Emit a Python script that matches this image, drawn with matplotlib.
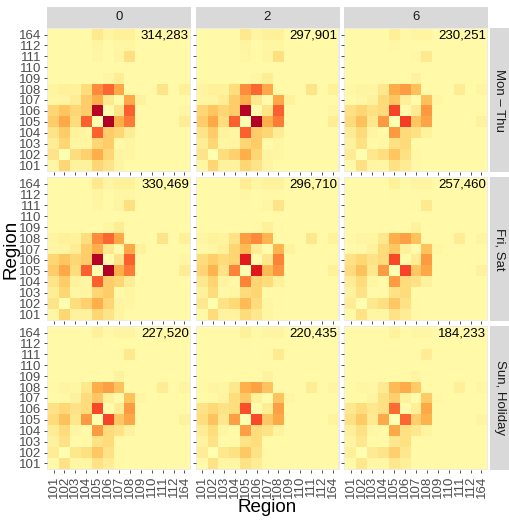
import numpy as np
import matplotlib
matplotlib.use('Agg')
import matplotlib.pyplot as plt
from matplotlib.colors import LinearSegmentedColormap

plt.rcParams['font.family'] = ['Liberation Sans', 'DejaVu Sans']

# regions on both axes (bottom to top / left to right)
regions = ['101', '102', '103', '104', '105', '106', '107', '108', '109', '110', '111', '112', '164']
col_labels = ['0', '2', '6']
row_labels = ['Mon \u2013 Thu', 'Fri, Sat', 'Sun, Holiday']

# totals printed in each panel
totals = [['314,283', '297,901', '230,251'],
          ['330,469', '296,710', '257,460'],
          ['227,520', '220,435', '184,233']]

# relative flow intensity (panel 0 / Mon-Thu), rows = origin 101..164
base = [
    [.04, .18, .06, .06, .18, .12, .05, .03, .03, .03, .03, .03, .03],  # 101
    [.12, .01, .15, .20, .35, .18, .05, .04, .03, .03, .03, .03, .03],  # 102
    [.08, .18, .04, .05, .18, .22, .03, .04, .03, .03, .03, .03, .03],  # 103
    [.12, .22, .06, .04, .62, .22, .18, .08, .03, .03, .03, .03, .03],  # 104
    [.22, .38, .15, .62, .00, 1.0, .35, .55, .03, .03, .03, .03, .08],  # 105
    [.18, .25, .18, .22, .98, .02, .12, .62, .03, .03, .03, .03, .04],  # 106
    [.04, .05, .08, .22, .35, .10, .02, .38, .06, .03, .03, .03, .03],  # 107
    [.05, .07, .06, .15, .50, .60, .38, .03, .03, .03, .12, .03, .07],  # 108
    [.03, .03, .03, .03, .03, .04, .08, .03, .03, .03, .03, .03, .03],  # 109
    [.03, .03, .03, .03, .03, .03, .03, .03, .03, .03, .03, .03, .03],  # 110
    [.03, .03, .03, .03, .04, .03, .05, .14, .03, .03, .03, .03, .03],  # 111
    [.03, .03, .03, .03, .05, .03, .04, .04, .03, .03, .03, .03, .03],  # 112
    [.03, .03, .03, .03, .10, .05, .07, .07, .03, .03, .03, .03, .03],  # 164
]

# peak intensity of each panel relative to panel 0 / Mon-Thu
peak = [[1.00, 1.00, 0.72],
        [1.00, 0.85, 0.70],
        [0.70, 0.68, 0.60]]

base = np.array(base)

# 7-class YlOrRd brewer palette
cmap = LinearSegmentedColormap.from_list(
    'ylorrd7', ['#FFFFB2', '#FED976', '#FEB24C', '#FD8D3C', '#FC4E2A', '#E31A1C', '#B10026'])

W, H = 509, 521
fig = plt.figure(figsize=(W / 100, H / 100), dpi=100)


def box(x0, y0, x1, y1):
    return [x0 / W, 1 - y1 / H, (x1 - x0) / W, (y1 - y0) / H]


cols_px = [(47, 191), (195.5, 339.5), (344, 488)]
rows_px = [(28, 172), (177, 321), (326, 470)]

edges = np.arange(len(regions) + 1) - 0.5

for i, (y0, y1) in enumerate(rows_px):
    for j, (x0, x1) in enumerate(cols_px):
        ax = fig.add_axes(box(x0, y0, x1, y1))
        ax.set_facecolor('#EBEBEB')
        vals = np.maximum(base * peak[i][j], 0.03)
        vals[base < 0.03] = base[base < 0.03]
        ax.pcolormesh(edges, edges, vals, cmap=cmap, vmin=0.0, vmax=1.0)
        ax.set_xlim(-0.6, len(regions) - 0.4)
        ax.set_ylim(-0.6, len(regions) - 0.4)
        for s in ax.spines.values():
            s.set_visible(False)
        ax.set_xticks(range(len(regions)))
        ax.set_yticks(range(len(regions)))
        ax.tick_params(length=2.5, width=0.6, color='#333333', pad=1.5,
                       labelsize=9.5, labelcolor='#4D4D4D')
        if i == 2:
            ax.set_xticklabels(regions, rotation=90)
        else:
            ax.set_xticklabels([])
        if j == 0:
            ax.set_yticklabels(regions)
        else:
            ax.set_yticklabels([])
        ax.text(0.985, 0.99, totals[i][j], transform=ax.transAxes,
                ha='right', va='top', fontsize=9.5, color='black')

# top strips
for j, (x0, x1) in enumerate(cols_px):
    sax = fig.add_axes(box(x0, 7, x1, 28))
    sax.set_facecolor('#D9D9D9')
    sax.set_xticks([])
    sax.set_yticks([])
    for s in sax.spines.values():
        s.set_visible(False)
    sax.text(0.5, 0.5, col_labels[j], ha='center', va='center',
             fontsize=9.5, color='#1A1A1A', transform=sax.transAxes)

# right strips
for i, (y0, y1) in enumerate(rows_px):
    sax = fig.add_axes(box(490, y0, 509, y1))
    sax.set_facecolor('#D9D9D9')
    sax.set_xticks([])
    sax.set_yticks([])
    for s in sax.spines.values():
        s.set_visible(False)
    sax.text(0.5, 0.5, row_labels[i], ha='center', va='center', rotation=-90,
             fontsize=9.5, color='#1A1A1A', transform=sax.transAxes)

fig.text((47 + 488) / 2 / W, 1 - 507 / H, 'Region', ha='center', va='center', fontsize=13.5)
fig.text(11 / W, 1 - 249 / H, 'Region', ha='center', va='center', rotation=90, fontsize=13.5)

fig.savefig('out.png', dpi=100)
